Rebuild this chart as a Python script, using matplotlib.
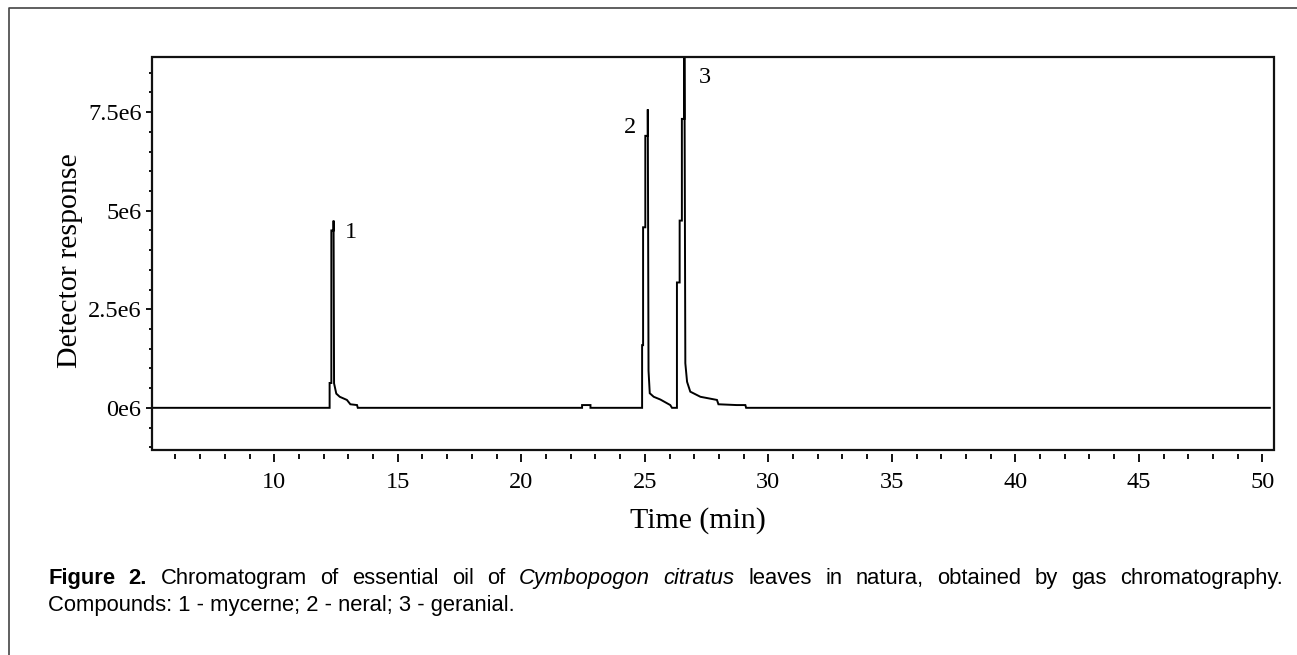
import matplotlib
matplotlib.use('Agg')
import matplotlib.pyplot as plt
from matplotlib.lines import Line2D
from matplotlib.patches import Rectangle
from matplotlib.ticker import FixedLocator, MultipleLocator

# chromatogram trace (time in min, detector response in units of 1e6)
time_min = [5.0, 12.24, 12.24, 12.31, 12.31, 12.40, 12.40, 12.42, 12.51, 12.65, 12.94, 13.08, 13.35, 13.38,
            22.46, 22.46, 22.80, 22.80,
            24.89, 24.89, 24.93, 24.93, 25.02, 25.02, 25.12, 25.12, 25.15, 25.20, 25.36, 25.63, 26.03, 26.10,
            26.30, 26.30, 26.41, 26.41, 26.50, 26.50, 26.60, 26.60, 26.64, 26.71, 26.84, 27.25, 27.92, 27.98,
            28.72, 29.07, 29.10, 50.3]
response = [0, 0, 0.63, 0.63, 4.50, 4.50, 4.75, 0.62, 0.36, 0.28, 0.20, 0.09, 0.07, 0,
            0, 0.07, 0.07, 0,
            0, 1.59, 1.59, 4.58, 4.58, 6.90, 6.90, 7.57, 0.94, 0.37, 0.28, 0.21, 0.07, 0,
            0, 3.18, 3.18, 4.75, 4.75, 7.33, 7.33, 9.60, 1.13, 0.66, 0.41, 0.28, 0.20, 0.09,
            0.07, 0.07, 0, 0]

peak_labels = ['1', '2', '3']
peak_x = [13.12, 24.41, 27.43]
peak_y = [4.46, 7.10, 8.38]

xticks_major = [10, 15, 20, 25, 30, 35, 40, 45, 50]
yticks_major = [0, 2.5, 5, 7.5]
ytick_labels = ['0e6', '2.5e6', '5e6', '7.5e6']

caption_line1 = [('Figure', 'bold'), ('2.', 'bold'), ('Chromatogram', ''), ('of', ''), ('essential', ''),
                 ('oil', ''), ('of', ''), ('Cymbopogon', 'italic'), ('citratus', 'italic'), ('leaves', ''),
                 ('in', ''), ('natura,', ''), ('obtained', ''), ('by', ''), ('gas', ''), ('chromatography.', '')]
caption_line2 = 'Compounds: 1 - mycerne; 2 - neral; 3 - geranial.'

W, H = 1297, 655
serif = 'Liberation Serif'
sans = 'Liberation Sans'

fig = plt.figure(figsize=(W/100, H/100), dpi=100)
ax = fig.add_axes([152/W, 1 - 450/H, (1274-152)/W, (450-57)/H])

ax.plot(time_min, response, color='black', lw=1.4, solid_joinstyle='miter')
ax.set_xlim(5.05, 50.47)
ax.set_ylim(-1.07, 8.9)

for s in ax.spines.values():
    s.set_visible(False)
ax.spines['bottom'].set_position(('outward', 3))
ax.add_patch(Rectangle((0, 0), 1, 1, transform=ax.transAxes, fill=False,
                       lw=1.6, edgecolor='#111111', clip_on=False, zorder=5))

ax.xaxis.set_major_locator(FixedLocator(xticks_major))
ax.xaxis.set_minor_locator(MultipleLocator(1))
ax.yaxis.set_major_locator(FixedLocator(yticks_major))
ax.yaxis.set_minor_locator(MultipleLocator(0.5))
ax.set_yticklabels(ytick_labels)
ax.tick_params(which='both', direction='out', color='black', width=1.3)
ax.tick_params(axis='x', which='major', length=6, pad=7, labelsize=17.5)
ax.tick_params(axis='x', which='minor', length=3.8)
ax.tick_params(axis='y', which='major', length=4.5, pad=3, labelsize=17.5)
ax.tick_params(axis='y', which='minor', length=2.5)
for lab in ax.get_xticklabels() + ax.get_yticklabels():
    lab.set_family(serif)

ax.set_xlabel('Time (min)', fontsize=21.5, family=serif, va='center')
ax.xaxis.set_label_coords((698-152)/1122, -(521-450)/393)
ax.set_ylabel('Detector response', fontsize=21.5, family=serif, va='center')
ax.yaxis.set_label_coords((70-152)/1122, (450-261)/393)

for lab, px, py in zip(peak_labels, peak_x, peak_y):
    ax.text(px, py, lab, fontsize=17.5, family=serif, ha='center', va='center')

# outer frame of the figure panel
fig.add_artist(Line2D([9/W, 9/W, 1], [0, 1 - 8/H, 1 - 8/H], transform=fig.transFigure,
                      color='#444444', lw=1.2))

# justified first caption line
renderer = fig.canvas.get_renderer()
x0, x1 = 48, 1283
cap_size = 15.8
texts = []
for word, style in caption_line1:
    t = fig.text(0, 1 - 584/H, word, fontsize=cap_size, family=sans, va='baseline',
                 fontweight='bold' if style == 'bold' else 'normal',
                 fontstyle='italic' if style == 'italic' else 'normal')
    texts.append(t)
widths = [t.get_window_extent(renderer).width for t in texts]
gap = (x1 - x0 - sum(widths)) / (len(texts) - 1)
x = x0
for t, w in zip(texts, widths):
    t.set_x(x / W)
    x += w + gap

fig.text(x0/W, 1 - 611/H, caption_line2, fontsize=cap_size, family=sans, va='baseline')

fig.savefig('out.png', dpi=100)
